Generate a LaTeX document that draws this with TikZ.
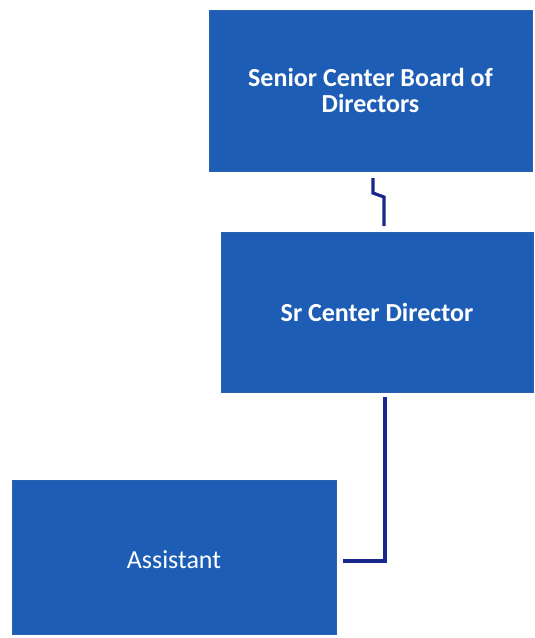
\documentclass[tikz,border=0pt]{standalone}
\usepackage{fontspec}
\setmainfont{Carlito}
\begin{document}
\begin{tikzpicture}[x=1pt,y=-1pt,
  orgbox/.style={draw=boxedge,fill=boxblue,line width=0.8pt,text=white,
    align=center,inner sep=0pt,font=\fontsize{26}{26}\selectfont},
  link/.style={draw=linkblue,line width=3.2pt}]
\definecolor{boxblue}{HTML}{1D5DB5}
\definecolor{boxedge}{HTML}{2A62B0}
\definecolor{linkblue}{HTML}{18278C}
\useasboundingbox (0,0) rectangle (535,638);
\begin{scope}
\clip (0,0) rectangle (535,638);
% boxes
\node[orgbox,minimum width=323pt,minimum height=161pt,font=\fontsize{26}{26}\selectfont\bfseries]
  (board) at (370.5,90.5) {Senior Center Board of\\Directors};
\node[orgbox,minimum width=312pt,minimum height=160pt,font=\fontsize{26}{26}\selectfont\bfseries]
  (dir) at (377,312) {Sr Center Director};
% the lowest box runs off the page, so its label sits below the box centre
\node[orgbox,minimum width=324pt,minimum height=154pt]
  (asst) at (174,557) {\raisebox{-11pt}[0pt][0pt]{Assistant}};
% connectors
\coordinate (j1) at (373,193);
\coordinate (j2) at (384,197);
\draw[link] (373,178) -- (j1) -- (j2) -- (384,226);
\draw[link] (385,397) -- (385,561) -- (343,561);
\end{scope}
\end{tikzpicture}
\end{document}
